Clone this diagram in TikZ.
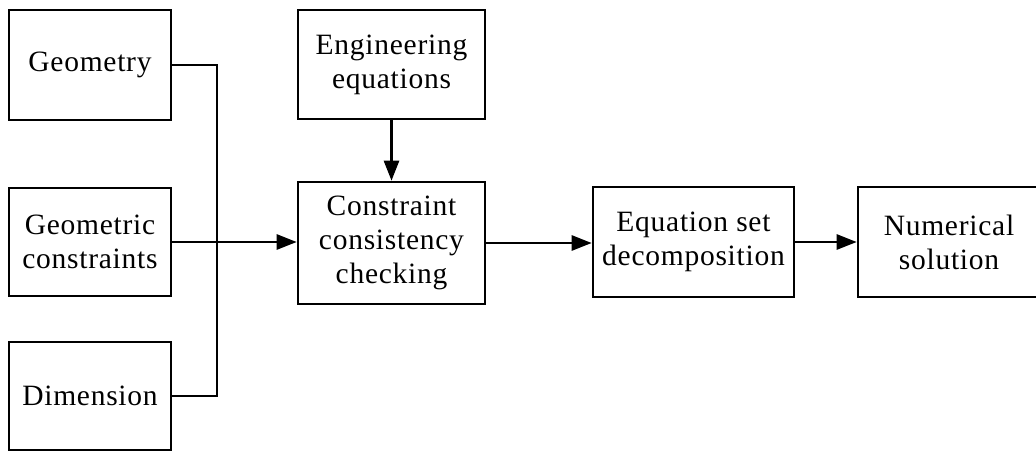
\documentclass[tikz,border=0pt]{standalone}
\usepackage{fontspec}
\setmainfont[LetterSpace=2.5]{Liberation Serif}
\usetikzlibrary{arrows.meta}
\begin{document}
\begin{tikzpicture}[x=1pt,y=-1pt,
  blk/.style={draw, line width=2.6pt, align=center, inner sep=0pt,
    font=\fontsize{29.5}{34}\selectfont},
  conn/.style={line width=2.6pt},
  arr/.style={conn, -{Triangle[length=20pt,width=15pt]}}]
\clip (0,0) rectangle (1036,452);
\fill[white] (0,0) rectangle (1036,452);
\node[blk, minimum width=162pt, minimum height=110pt] (geo) at (90,65) {Geometry};
\node[blk, minimum width=162pt, minimum height=108pt] (gc) at (90,242) {Geometric\\constraints};
\node[blk, minimum width=162pt, minimum height=108pt] (dim) at (90,396) {Dimension};
\node[blk, minimum width=187pt, minimum height=109pt] (eng) at (391.5,64.5) {Engineering\\equations};
\node[blk, minimum width=187pt, minimum height=122pt] (con) at (391.5,243) {Constraint\\consistency\\checking};
\node[blk, minimum width=201pt, minimum height=110pt] (eq) at (693.5,242) {Equation set\\decomposition};
\node[blk, minimum width=182pt, minimum height=110pt] (num) at (949,242) {Numerical\\solution};
\coordinate (jt) at (217,65);
\coordinate (jb) at (217,396);
\draw[conn] (geo.east) -- (jt) -- (jb) -- (dim.east);
\draw[arr] (gc.east) -- (gc.east -| con.west);
\draw[arr] (eng.south) -- (con.north);
\draw[arr] (con.east) -- (con.east -| eq.west);
\draw[arr] (eq.east) -- (num.west);
\end{tikzpicture}
\end{document}
